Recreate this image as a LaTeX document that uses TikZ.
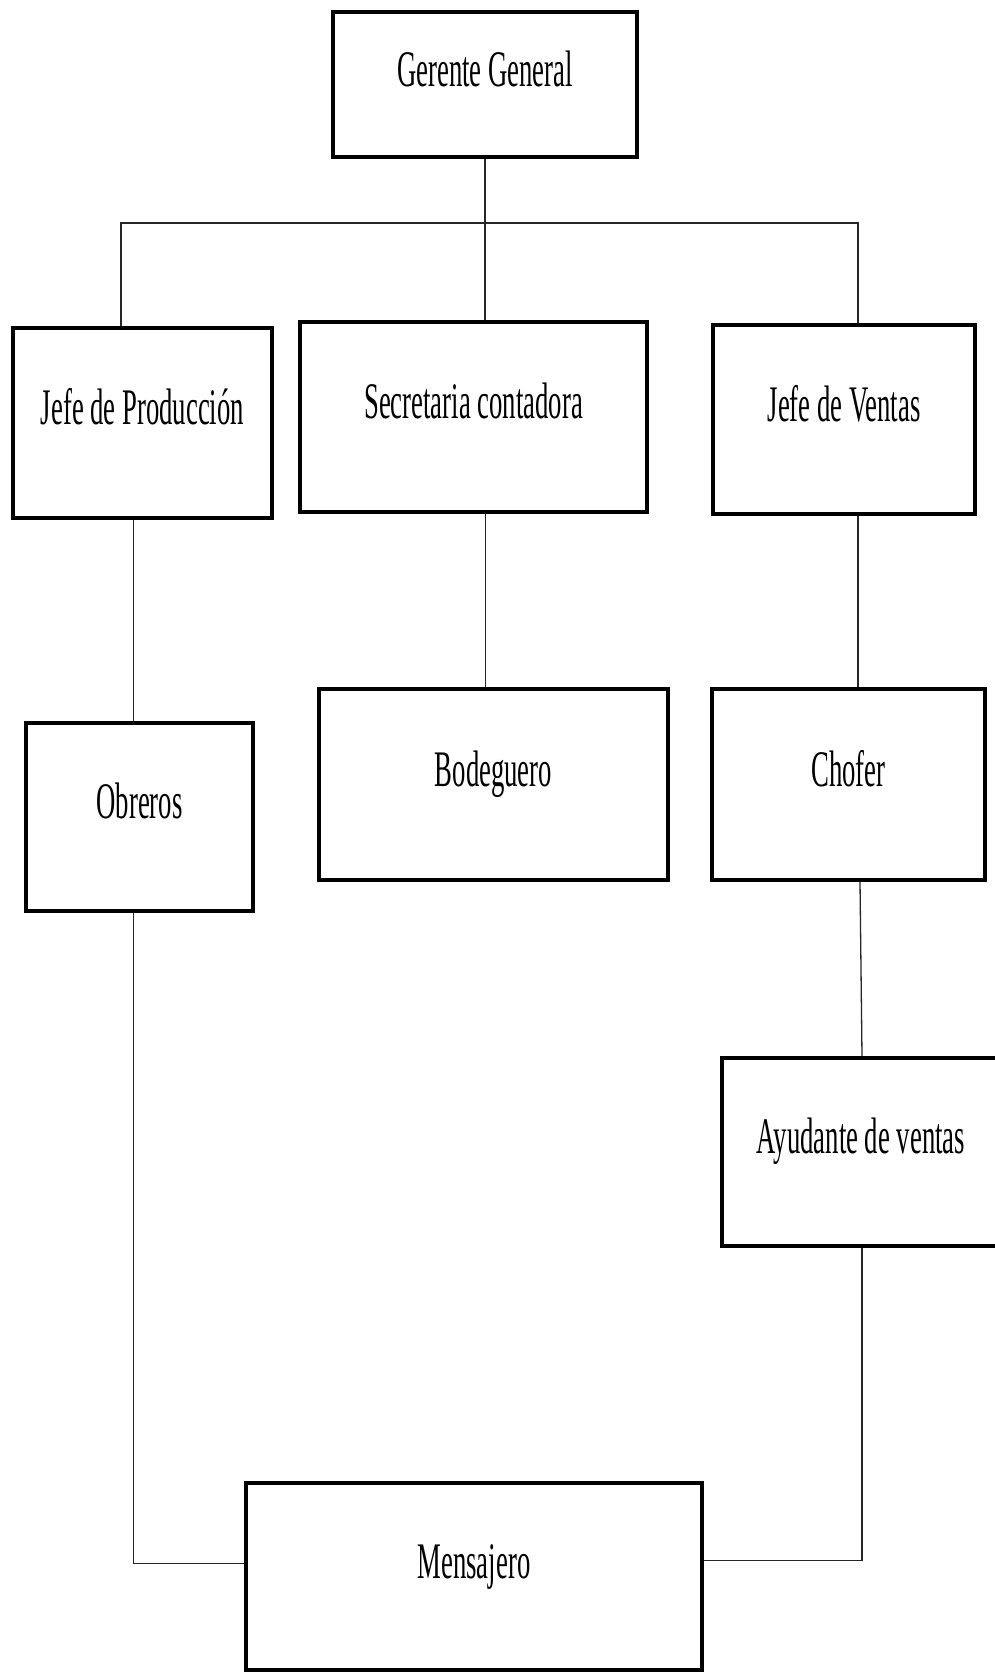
\documentclass[tikz,border=0pt]{standalone}
\usepackage{fontspec}
\usepackage{graphicx}
\usepackage{tikz}
\setmainfont{Liberation Serif}
\definecolor{orgInk}{HTML}{000000}
\newcommand{\tallcargo}[1]{\scalebox{1}[1.92]{#1}}
\tikzset{
  puesto/.style={draw=orgInk,line width=3.8pt,fill=white,
    font=\fontsize{26.7pt}{30pt}\selectfont,text height=36pt,text depth=32pt,
    inner sep=0pt,align=center},
  linea/.style={line width=1.3pt,draw=orgInk!85}
}

\begin{document}
\begin{tikzpicture}[x=1pt,y=1pt]
  \useasboundingbox[fill=white] (0,0) rectangle (994,1672);

  \node[puesto, minimum width=304pt, minimum height=145pt] (gerente) at (485,1587.5) {\tallcargo{Gerente General}};

  \node[puesto, minimum width=259pt, minimum height=190pt] (jefeprod) at (142.5,1249) {\tallcargo{Jefe de Producción}};
  \node[puesto, minimum width=347pt, minimum height=190pt] (secretaria) at (473.5,1255) {\tallcargo{Secretaria contadora}};
  \node[puesto, minimum width=262pt, minimum height=189pt] (jefeventas) at (844,1252.5) {\tallcargo{Jefe de Ventas}};

  \node[puesto, minimum width=227pt, minimum height=188pt] (obreros) at (139.5,855) {\tallcargo{Obreros}};
  \node[puesto, minimum width=349pt, minimum height=191pt] (bodeguero) at (493.5,887.5) {\tallcargo{Bodeguero}};
  \node[puesto, minimum width=273pt, minimum height=191pt] (chofer) at (848.5,887.5) {\tallcargo{Chofer}};

  \node[puesto, minimum width=278pt, minimum height=188pt] (ayudante) at (861,520) {\tallcargo{Ayudante de ventas}};

  \node[puesto, minimum width=456pt, minimum height=187pt] (mensajero) at (474,95.5) {\tallcargo{Mensajero}};

  \coordinate (ramaIzq) at (121,1449);
  \coordinate (ramaDer) at (858,1449);

  \draw[linea] (gerente.south) -- (gerente.south |- secretaria.north);
  \draw[linea] (ramaIzq |- jefeprod.north) -- (ramaIzq) -- (ramaDer) -- (ramaDer |- jefeventas.north);
  \draw[linea] ([xshift=-9pt]jefeprod.south) -- ([xshift=-6pt]obreros.north);
  \draw[linea] ([xshift=12pt]secretaria.south) -- ([xshift=-8pt]bodeguero.north);
  \draw[linea] ([xshift=14pt]jefeventas.south) -- ([xshift=9.5pt]chofer.north);
  \draw[linea] ([xshift=11.5pt]chofer.south) -- ([xshift=1pt]ayudante.north);
  \draw[linea] ([xshift=-6pt]obreros.south) |- ([yshift=13pt]mensajero.west);
  \draw[linea] ([xshift=1pt]ayudante.south) |- ([yshift=16pt]mensajero.east);
\end{tikzpicture}
\end{document}
